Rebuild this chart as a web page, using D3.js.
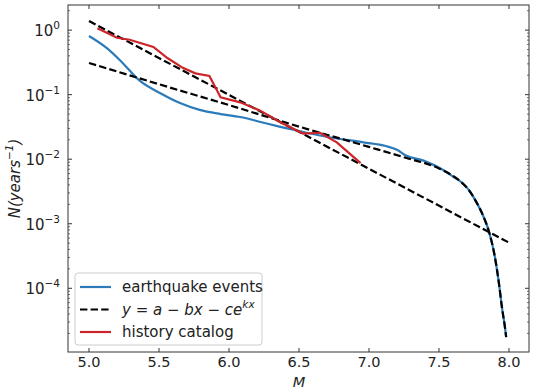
<!DOCTYPE html>
<html>
<head>
<meta charset="utf-8">
<script src="https://cdn.jsdelivr.net/npm/d3@7"></script>
<style>
  body { margin: 0; background: #fff; }
  text { font-family: "DejaVu Sans", sans-serif; fill: #222; }
</style>
</head>
<body>
<svg width="533" height="391"></svg>
<script>
// earthquake events (M, N)
var quakeM = [5.0, 5.13, 5.24, 5.36, 5.51, 5.65, 5.79, 5.94, 6.08, 6.24, 6.36, 6.48, 6.58, 6.72, 6.96, 7.12, 7.2, 7.26, 7.39, 7.53, 7.6, 7.66, 7.71, 7.76, 7.82, 7.86, 7.9, 7.93, 7.95, 7.97, 7.98];
var quakeN = [0.81, 0.52, 0.31, 0.166, 0.105, 0.074, 0.058, 0.050, 0.045, 0.037, 0.032, 0.028, 0.025, 0.0219, 0.0182, 0.0160, 0.0140, 0.0115, 0.0095, 0.0068, 0.0054, 0.0044, 0.0034, 0.0023, 0.00126, 0.00072, 0.00030, 0.000112, 0.00005, 0.000026, 0.0000175];

// fit y = a - bx - ce^{kx} (log10 N)
var fitM = [5.0, 5.5, 6.0, 6.5, 7.0, 7.25, 7.5, 7.6, 7.66, 7.71, 7.76, 7.82, 7.86, 7.9, 7.93, 7.95, 7.97, 7.98];
var fitN = [0.31, 0.145, 0.069, 0.032, 0.0155, 0.0107, 0.0072, 0.0055, 0.0044, 0.0034, 0.0023, 0.00126, 0.00072, 0.00030, 0.000112, 0.00005, 0.000026, 0.0000175];

// straight Gutenberg-Richter line
var grM = [5.0, 8.0];
var grN = [1.38, 0.00051];

// history catalog
var histM = [5.06, 5.2, 5.29, 5.46, 5.56, 5.67, 5.76, 5.86, 5.94, 6.08, 6.22, 6.38, 6.53, 6.65, 6.77, 6.86, 6.94];
var histN = [1.07, 0.76, 0.71, 0.55, 0.37, 0.26, 0.214, 0.195, 0.091, 0.076, 0.057, 0.036, 0.025, 0.0257, 0.0182, 0.0123, 0.0087];

var xTicks = [5.0, 5.5, 6.0, 6.5, 7.0, 7.5, 8.0];
var yExps = [0, -1, -2, -3, -4];

var svg = d3.select("svg"),
    margin = {top: 5, right: 4, bottom: 39, left: 68},
    width = 533 - margin.left - margin.right,
    height = 391 - margin.top - margin.bottom;

var x = d3.scaleLinear().domain([4.85, 8.143]).range([0, width]);
var y = d3.scaleLog().domain([1.03e-5, 2.45]).range([height, 0]);

var g = svg.append("g")
  .attr("transform", "translate(" + margin.left + "," + margin.top + ")");

svg.append("defs").append("clipPath").attr("id", "clip")
  .append("rect").attr("width", width).attr("height", height);

function toPts(ms, ns) {
  return ms.map(function(m, i) { return [m, ns[i]]; });
}

var line = d3.line()
  .x(function(d) { return x(d[0]); })
  .y(function(d) { return y(d[1]); });
var smooth = d3.line()
  .curve(d3.curveMonotoneX)
  .x(function(d) { return x(d[0]); })
  .y(function(d) { return y(d[1]); });

var plot = g.append("g").attr("clip-path", "url(#clip)");

plot.append("path").datum(toPts(quakeM, quakeN))
  .attr("d", smooth).attr("fill", "none")
  .attr("stroke", "#2b7bba").attr("stroke-width", 2.2);

plot.append("path").datum(toPts(grM, grN))
  .attr("d", line).attr("fill", "none")
  .attr("stroke", "#000").attr("stroke-width", 2.2)
  .attr("stroke-dasharray", "7.4,3.2");

plot.append("path").datum(toPts(fitM, fitN))
  .attr("d", smooth).attr("fill", "none")
  .attr("stroke", "#000").attr("stroke-width", 2.2)
  .attr("stroke-dasharray", "7.4,3.2");

plot.append("path").datum(toPts(histM, histN))
  .attr("d", line).attr("fill", "none")
  .attr("stroke", "#cc2529").attr("stroke-width", 2.2);

// frame
g.append("rect").attr("width", width).attr("height", height)
  .attr("fill", "none").attr("stroke", "#333").attr("stroke-width", 1);

// x ticks (inward, top and bottom)
xTicks.forEach(function(t) {
  var px = x(t);
  g.append("line").attr("x1", px).attr("x2", px).attr("y1", height).attr("y2", height - 4)
    .attr("stroke", "#333");
  g.append("line").attr("x1", px).attr("x2", px).attr("y1", 0).attr("y2", 4)
    .attr("stroke", "#333");
  g.append("text").attr("x", px).attr("y", height + 15)
    .attr("text-anchor", "middle").style("font-size", "14.5px")
    .text(t.toFixed(1));
});

// y ticks major + minor (inward, left and right)
for (var e = -5; e <= 0; e++) {
  for (var m = 1; m <= 9; m++) {
    var v = m * Math.pow(10, e);
    if (v < y.domain()[0] || v > y.domain()[1]) continue;
    var py = y(v), len = m === 1 ? 4 : 2;
    g.append("line").attr("x1", 0).attr("x2", len).attr("y1", py).attr("y2", py)
      .attr("stroke", "#333").attr("stroke-width", m === 1 ? 1 : 0.7);
    g.append("line").attr("x1", width).attr("x2", width - len).attr("y1", py).attr("y2", py)
      .attr("stroke", "#333").attr("stroke-width", m === 1 ? 1 : 0.7);
  }
}
yExps.forEach(function(ex) {
  var t = g.append("text").attr("x", -8).attr("y", y(Math.pow(10, ex)) + 6)
    .attr("text-anchor", "end").style("font-size", "15px");
  t.append("tspan").text("10");
  t.append("tspan").attr("dy", -7).style("font-size", "10.5px")
    .text(ex === 0 ? "0" : "\u2212" + (-ex));
});

// axis labels
var yl = svg.append("text")
  .attr("transform", "translate(20," + (margin.top + height / 2) + ") rotate(-90)")
  .attr("text-anchor", "middle").style("font-size", "15px");
yl.append("tspan").style("font-style", "italic").text("N(years");
yl.append("tspan").attr("dy", -7).style("font-size", "10.5px").style("font-style", "italic").text("\u22121");
yl.append("tspan").attr("dy", 7).style("font-style", "italic").text(")");

svg.append("text").attr("x", margin.left + x(6.5)).attr("y", 387)
  .attr("text-anchor", "middle").style("font-size", "14.5px").style("font-style", "italic")
  .text("M");

// legend
var lg = g.append("g").attr("transform", "translate(7,268)");
lg.append("rect").attr("width", 187).attr("height", 72).attr("rx", 3)
  .attr("fill", "#fff").attr("fill-opacity", 0.8)
  .attr("stroke", "#ccc").attr("stroke-width", 1);

var legendItems = [
  {label: "earthquake events", color: "#2b7bba", dash: null},
  {label: "fit", color: "#000", dash: "7.4,3.2"},
  {label: "history catalog", color: "#cc2529", dash: null}
];
legendItems.forEach(function(d, i) {
  var ly = 14 + i * 22.5;
  lg.append("line").attr("x1", 5).attr("x2", 36).attr("y1", ly).attr("y2", ly)
    .attr("stroke", d.color).attr("stroke-width", 2.2)
    .attr("stroke-dasharray", d.dash);
  var t = lg.append("text").attr("x", 47).attr("y", ly + 5).style("font-size", "15px");
  if (i === 1) {
    t.append("tspan").style("font-style", "italic").text("y");
    t.append("tspan").text(" = ");
    t.append("tspan").style("font-style", "italic").text("a");
    t.append("tspan").text(" \u2212 ");
    t.append("tspan").style("font-style", "italic").text("bx");
    t.append("tspan").text(" \u2212 ");
    t.append("tspan").style("font-style", "italic").text("ce");
    t.append("tspan").attr("dy", -7).style("font-size", "10.5px").style("font-style", "italic").text("kx");
  } else {
    t.text(d.label);
  }
});
</script>
</body>
</html>
